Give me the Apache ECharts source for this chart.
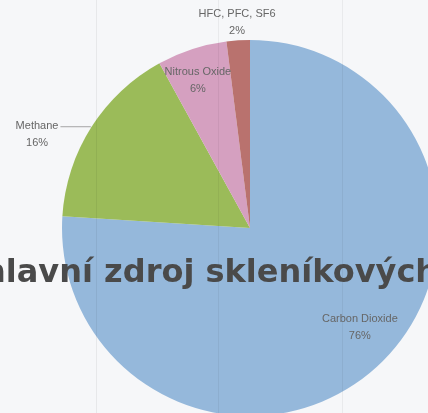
<!DOCTYPE html>
<html>
<head>
    <meta charset="utf-8">
    <title>Skleníkové plyny</title>
    <script src="https://cdn.jsdelivr.net/npm/echarts@6/dist/echarts.min.js"></script>
    <style>
        html, body { margin: 0; padding: 0; background: #f6f7f9; }
        #main { width: 428px; height: 413px; }
    </style>
</head>
<body>
    <div id="main"></div>
<script type="text/javascript">
    // data
    var gasNames = ['Carbon Dioxide', 'Methane', 'Nitrous Oxide', 'HFC, PFC, SF6'];
    var gasShares = [76, 16, 6, 2];

    var sliceColors = ['#95b8db', '#9bbb59', '#d5a0c0', '#b9726e'];
    // where each label sits: inside labels are pushed along the radius (fraction of r, angle tweak in deg)
    var labelPlace = [
        { pos: 'inside', r: 0.79, turn: -4.5 },
        { pos: 'outside' },
        { pos: 'inside', r: 0.83, turn: -1.5 },
        { pos: 'inside', r: 1.095, turn: 0 }
    ];

    var pieCenter = [250, 228];
    var pieRadius = 188;
    var labelFont = '"Liberation Sans", Arial, sans-serif';

    var myChart = echarts.init(document.getElementById('main'));

    var pieData = [];
    for (var i = 0; i < gasNames.length; i++) {
        var item = {
            name: gasNames[i],
            value: gasShares[i],
            itemStyle: { color: sliceColors[i] },
            label: { position: labelPlace[i].pos }
        };
        if (labelPlace[i].pos == 'outside') {
            // Methane: leader line goes to the first row
            item.label.padding = [15, 0, 0, 0];
            item.label.distanceToLabelLine = 2;
            item.labelLine = { show: true, length: 1, length2: 30 };
        }
        pieData.push(item);
    }

    function moveLabel(params) {
        var p = labelPlace[params.dataIndex];
        if (!p || p.pos != 'inside') {
            return {};
        }
        var rc = params.labelRect;
        var ax = rc.x + rc.width / 2;
        var ay = rc.y + rc.height / 2;
        var ang = Math.atan2(ay - pieCenter[1], ax - pieCenter[0]) + p.turn * Math.PI / 180;
        var nx = pieCenter[0] + Math.cos(ang) * pieRadius * p.r;
        var ny = pieCenter[1] + Math.sin(ang) * pieRadius * p.r;
        return { dx: nx - ax, dy: ny - ay };
    }

    var option = {
        backgroundColor: '#f6f7f9',
        animation: false,
        graphic: [
            // faint slide guide lines
            { type: 'line', z: 50, silent: true, shape: { x1: 96.5, y1: 0, x2: 96.5, y2: 413 }, style: { stroke: 'rgba(0,0,0,0.06)', lineWidth: 1 } },
            { type: 'line', z: 50, silent: true, shape: { x1: 218.5, y1: 0, x2: 218.5, y2: 413 }, style: { stroke: 'rgba(0,0,0,0.05)', lineWidth: 1 } },
            { type: 'line', z: 50, silent: true, shape: { x1: 342.5, y1: 0, x2: 342.5, y2: 413 }, style: { stroke: 'rgba(0,0,0,0.05)', lineWidth: 1 } },
            {
                type: 'text',
                z: 100,
                silent: true,
                x: -17,
                y: 258,
                style: {
                    text: 'hlavní zdroj skleníkových',
                    font: 'bold 32px "DejaVu Sans"',
                    fill: '#4a4a4a',
                    align: 'left',
                    verticalAlign: 'top'
                }
            }
        ],
        series: [{
            name: 'Greenhouse gases',
            type: 'pie',
            center: pieCenter,
            radius: pieRadius,
            startAngle: 90,
            clockwise: true,
            avoidLabelOverlap: false,
            silent: true,
            itemStyle: { borderWidth: 0 },
            label: {
                show: true,
                formatter: '{c|{b}}\n{c|{c}%}',
                color: '#666666',
                fontFamily: labelFont,
                fontSize: 11,
                lineHeight: 17,
                rich: {
                    c: {
                        align: 'center',
                        color: '#666666',
                        fontFamily: labelFont,
                        fontSize: 11,
                        lineHeight: 17
                    }
                }
            },
            labelLine: {
                show: false,
                lineStyle: { color: '#a6a6a6', width: 1 }
            },
            labelLayout: moveLabel,
            data: pieData
        }]
    };

    myChart.setOption(option);
</script>
</body>
</html>
